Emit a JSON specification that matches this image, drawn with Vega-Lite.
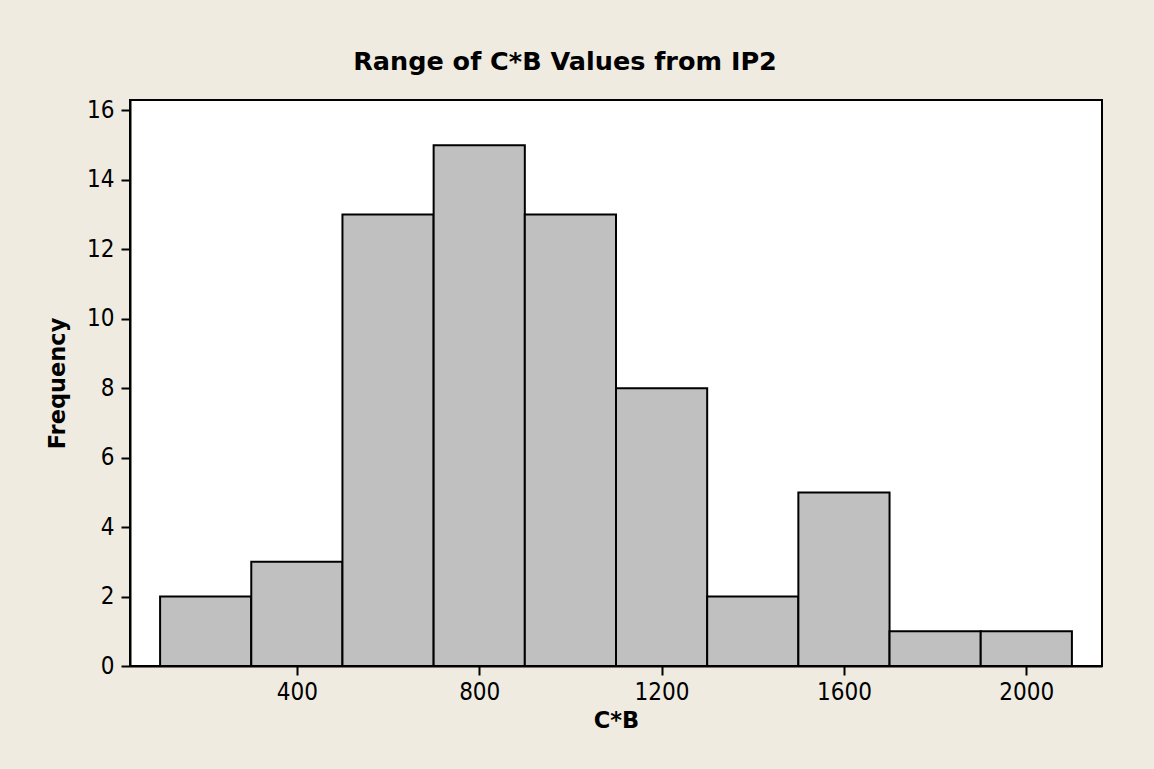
{
  "$schema": "https://vega.github.io/schema/vega-lite/v6.json",
  "width": 972,
  "height": 566,
  "autosize": {"type": "none"},
  "padding": {"left": 130, "top": 100, "right": 52, "bottom": 103},
  "background": "#EFEBE1",
  "title": {
    "text": "Range of C*B Values from IP2",
    "font": "DejaVu Sans",
    "fontSize": 25.5,
    "fontWeight": "bold",
    "color": "#000000",
    "anchor": "middle",
    "offset": 23,
    "dx": -51
  },
  "data": {
    "values": [
      {"bin_start": 100, "bin_end": 300, "count": 2},
      {"bin_start": 300, "bin_end": 500, "count": 3},
      {"bin_start": 500, "bin_end": 700, "count": 13},
      {"bin_start": 700, "bin_end": 900, "count": 15},
      {"bin_start": 900, "bin_end": 1100, "count": 13},
      {"bin_start": 1100, "bin_end": 1300, "count": 8},
      {"bin_start": 1300, "bin_end": 1500, "count": 2},
      {"bin_start": 1500, "bin_end": 1700, "count": 5},
      {"bin_start": 1700, "bin_end": 1900, "count": 1},
      {"bin_start": 1900, "bin_end": 2100, "count": 1}
    ]
  },
  "mark": {"type": "rect", "fill": "#C0C0C0", "stroke": "#000000", "strokeWidth": 2},
  "encoding": {
    "x": {
      "field": "bin_start",
      "type": "quantitative",
      "title": "C*B",
      "scale": {"domain": [34, 2166], "nice": false, "zero": false},
      "axis": {"values": [400, 800, 1200, 1600, 2000], "format": "d", "grid": false, "domain": true}
    },
    "x2": {"field": "bin_end"},
    "y": {
      "field": "count",
      "type": "quantitative",
      "title": "Frequency",
      "scale": {"domain": [0, 16.3], "nice": false},
      "axis": {"values": [0, 2, 4, 6, 8, 10, 12, 14, 16], "format": "d", "grid": false}
    },
    "y2": {"datum": 0}
  },
  "config": {
    "view": {"fill": "#FFFFFF", "stroke": "#000000", "strokeWidth": 2},
    "axis": {
      "labelFont": "DejaVu Sans Condensed",
      "labelFontSize": 24,
      "labelColor": "#000000",
      "titleFont": "DejaVu Sans",
      "titleFontSize": 22.5,
      "titleFontWeight": "bold",
      "titleColor": "#000000",
      "domainColor": "#000000",
      "domainWidth": 2,
      "tickColor": "#000000",
      "tickWidth": 2,
      "tickSize": 9,
      "labelPadding": 5
    },
    "axisX": {"titlePadding": 5},
    "axisY": {"titlePadding": 17, "labelPadding": 7}
  }
}
